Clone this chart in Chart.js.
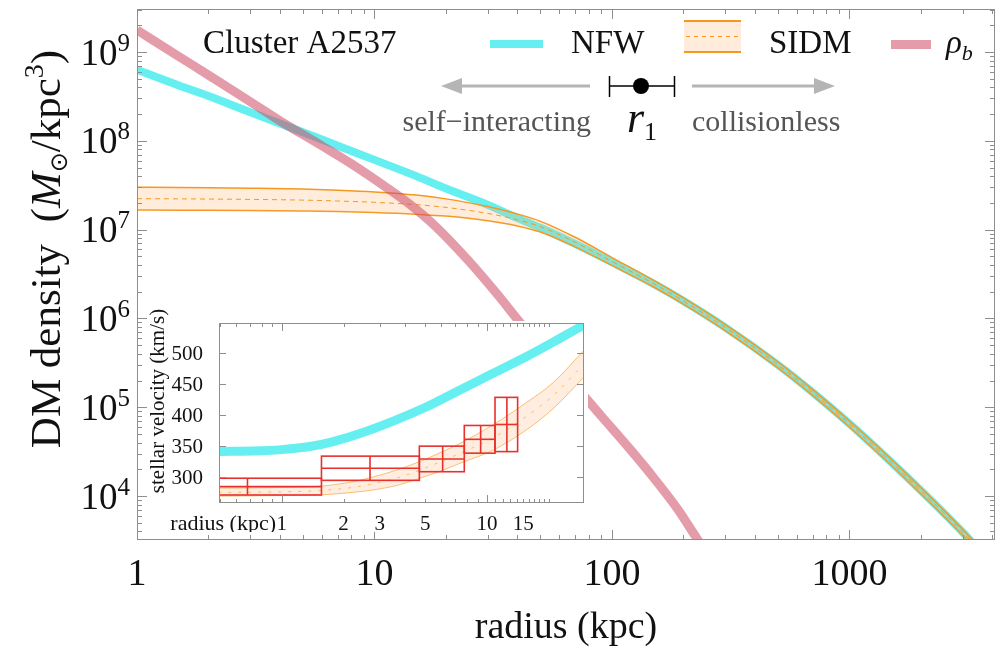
<!DOCTYPE html>
<html>
<head>
<meta charset="utf-8">
<script src="https://cdn.jsdelivr.net/npm/chart.js@4.4.0/dist/chart.umd.min.js"></script>
<style>
  body { margin: 0; background: #fff; }
  #wrap { position: relative; width: 997px; height: 650px; }
  #densityChart { position: absolute; left: 0; top: 0; }
  #velocityChart { position: absolute; left: 148px; top: 300px; }
</style>
</head>
<body>
<div id="wrap">
  <canvas id="densityChart" width="997" height="650"></canvas>
  <canvas id="velocityChart" width="442" height="232"></canvas>
</div>
<script>
// density profiles: radius in kpc, density in Msun/kpc^3
const radius = [1, 1.5, 2, 3, 5, 7, 10, 15, 20, 30, 40, 50, 70, 100, 150, 200, 300, 500, 700, 1000, 1500, 2000, 2500, 3000, 3500, 4200];
const nfwDensity = [6.3e8, 4.2e8, 3.2e8, 2.1e8, 1.25e8, 8.8e7, 6.1e7, 4.0e7, 2.9e7, 1.9e7, 1.35e7, 1.05e7, 6.9e6, 4.3e6, 2.45e6, 1.57e6, 7.9e5, 3.0e5, 1.47e5, 6.5e4, 2.4e4, 1.15e4, 6.4e3, 3.9e3, 2.5e3, 1.5e3];
const sidmUpper = [3.0e7, 2.99e7, 2.97e7, 2.93e7, 2.86e7, 2.78e7, 2.66e7, 2.45e7, 2.22e7, 1.82e7, 1.5e7, 1.24e7, 8.2e6, 4.85e6, 2.68e6, 1.7e6, 8.5e5, 3.23e5, 1.58e5, 7.0e4, 2.6e4, 1.24e4, 6.9e3, 4.2e3, 2.7e3, 1.62e3];
const sidmCentral = [2.23e7, 2.22e7, 2.21e7, 2.19e7, 2.15e7, 2.1e7, 2.03e7, 1.91e7, 1.78e7, 1.52e7, 1.29e7, 1.08e7, 7.2e6, 4.38e6, 2.46e6, 1.57e6, 7.9e5, 3.0e5, 1.47e5, 6.5e4, 2.4e4, 1.15e4, 6.4e3, 3.9e3, 2.5e3, 1.5e3];
const sidmLower = [1.66e7, 1.655e7, 1.65e7, 1.64e7, 1.62e7, 1.6e7, 1.56e7, 1.49e7, 1.42e7, 1.26e7, 1.1e7, 9.4e6, 6.4e6, 3.95e6, 2.26e6, 1.45e6, 7.3e5, 2.77e5, 1.36e5, 6.0e4, 2.22e4, 1.06e4, 5.9e3, 3.6e3, 2.3e3, 1.38e3];
const baryonRadius = [1, 1.5, 2, 3, 4, 6, 8, 11, 14, 18, 25, 33, 41, 55, 70, 90, 120, 150, 190, 230, 260];
const baryonDensity = [1.77e9, 8.9e8, 5.5e8, 2.75e8, 1.68e8, 8.8e7, 5.5e7, 3.1e7, 1.95e7, 1.1e7, 4.4e6, 1.85e6, 9.0e5, 3.6e5, 1.75e5, 8.0e4, 3.3e4, 1.6e4, 7.0e3, 3.2e3, 2.0e3];

const xDecades = [1, 10, 100, 1000];
const xTickLabels = ['1', '10', '100', '1000'];
const yDecades = [1e4, 1e5, 1e6, 1e7, 1e8, 1e9];
const yExponents = ['4', '5', '6', '7', '8', '9'];

// inset: stellar velocity dispersion (km/s) against radius (kpc)
const velRadius = [0.49, 0.78, 1.0, 1.37, 1.78, 2.4, 3.49, 5.08, 7.38, 10.7, 15.6, 22.6, 29.7];
const nfwVelocity = [341, 342, 344, 349, 357, 370, 390, 413, 440, 467, 494, 523, 545];
const sidmVelRadius = [0.49, 1.0, 1.53, 2.2, 2.79, 3.7, 4.71, 6, 7.38, 10.7, 15.6, 21, 29.7];
const sidmVelUpper = [282, 283, 285, 292, 300, 312, 325, 340, 354, 384, 420, 452, 504];
const sidmVelCentral = [275, 276, 278, 283, 289, 299, 311, 325, 338, 363, 398, 431, 482];
const sidmVelLower = [269, 270, 271, 275, 279, 287, 298, 310, 322, 343, 376, 410, 461];
const binInner = [0.3, 1.56, 4.68, 7.75, 10.94];
const binOuter = [1.56, 4.68, 7.75, 10.94, 14.1];
const binRadius = [0.68, 2.69, 6.08, 9.31, 12.5];
const binVelocity = [284.4, 314, 329, 360.6, 384.5];
const binError = [13.5, 19.5, 20.6, 22.3, 43.7];
const insetTicks = [1, 2, 3, 5, 10, 15];
const insetVelTicks = [300, 350, 400, 450, 500];

const serif = "'Liberation Serif', 'Times New Roman', serif";
const cyan = 'rgba(0, 228, 232, 0.6)';
const pink = 'rgba(205, 75, 100, 0.55)';
const orange = 'rgb(246, 152, 32)';
const bandFill = 'rgba(255, 170, 90, 0.22)';
const frameGray = '#8e8e8e';

function points(xs, ys) {
    return xs.map((x, i) => ({ x: x, y: ys[i] }));
}

// draws a run of text pieces with their own fonts and vertical offsets
function drawParts(ctx, parts, x, y, align) {
    let total = 0;
    parts.forEach(p => { ctx.font = p.font; p.w = ctx.measureText(p.text).width; total += p.w; });
    let cx = align === 'right' ? x - total : align === 'center' ? x - total / 2 : x;
    parts.forEach(p => { ctx.font = p.font; ctx.fillText(p.text, cx, y + (p.dy || 0)); cx += p.w; });
}

function line(ctx, x1, y1, x2, y2) {
    ctx.beginPath();
    ctx.moveTo(x1, y1);
    ctx.lineTo(x2, y2);
    ctx.stroke();
}

function logTicks(min, max) {
    const out = [];
    for (let d = Math.pow(10, Math.floor(Math.log10(min))); d <= max; d *= 10) {
        for (let k = 1; k < 10; k++) {
            const v = d * k;
            if (v >= min && v <= max) out.push({ v: v, major: k === 1 });
        }
    }
    return out;
}

const densityDecor = {
    id: 'densityDecor',
    afterDraw(chart) {
        const { ctx, chartArea: a, scales: { x, y } } = chart;
        ctx.save();

        // frame with inward ticks on all four sides
        ctx.strokeStyle = frameGray;
        ctx.lineWidth = 1;
        ctx.strokeRect(a.left + 0.5, a.top + 0.5, a.right - a.left - 1, a.bottom - a.top - 1);
        logTicks(x.min, x.max).forEach(t => {
            const px = Math.round(x.getPixelForValue(t.v)) + 0.5;
            const len = t.major ? 10 : 5;
            line(ctx, px, a.bottom, px, a.bottom - len);
            line(ctx, px, a.top, px, a.top + len);
        });
        logTicks(y.min, y.max).forEach(t => {
            const py = Math.round(y.getPixelForValue(t.v)) + 0.5;
            const len = t.major ? 10 : 5;
            line(ctx, a.left, py, a.left + len, py);
            line(ctx, a.right, py, a.right - len, py);
        });

        // tick labels
        ctx.fillStyle = '#111';
        ctx.textAlign = 'center';
        ctx.textBaseline = 'alphabetic';
        ctx.font = `38px ${serif}`;
        xDecades.forEach((v, i) => ctx.fillText(xTickLabels[i], x.getPixelForValue(v), 585));
        ctx.textAlign = 'left';
        yDecades.forEach((v, i) => {
            const py = y.getPixelForValue(v);
            drawParts(ctx, [
                { text: '10', font: `37px ${serif}` },
                { text: yExponents[i], font: `25px ${serif}`, dy: -14 }
            ], 130, py + 12.5, 'right');
        });

        // axis titles
        drawParts(ctx, [{ text: 'radius (kpc)', font: `38px ${serif}` }], (a.left + a.right) / 2, 638, 'center');
        ctx.save();
        ctx.translate(60, 249);
        ctx.rotate(-Math.PI / 2);
        drawParts(ctx, [
            { text: 'DM density  (', font: `43px ${serif}` },
            { text: 'M', font: `italic 43px ${serif}` },
            { text: '\u2299', font: `24px 'DejaVu Sans'`, dy: 7 },
            { text: '/kpc', font: `43px ${serif}` },
            { text: '3', font: `28px ${serif}`, dy: -17 },
            { text: ')', font: `43px ${serif}` }
        ], 0, 0, 'center');
        ctx.restore();

        // legend row
        ctx.fillStyle = '#111';
        ctx.font = `33px ${serif}`;
        ctx.fillText('Cluster A2537', 203, 53);
        ctx.fillStyle = cyan;
        ctx.fillRect(490, 40, 53, 8);
        ctx.fillStyle = '#111';
        ctx.fillText('NFW', 571, 53);
        ctx.fillStyle = bandFill;
        ctx.fillRect(684, 21, 57, 31);
        ctx.strokeStyle = orange;
        ctx.lineWidth = 2;
        line(ctx, 684, 21, 741, 21);
        line(ctx, 684, 52, 741, 52);
        ctx.lineWidth = 1;
        ctx.setLineDash([4, 4]);
        line(ctx, 686, 36.5, 741, 36.5);
        ctx.setLineDash([]);
        ctx.fillStyle = '#111';
        ctx.font = `33px ${serif}`;
        ctx.fillText('SIDM', 769, 53);
        ctx.fillStyle = pink;
        ctx.fillRect(891, 40, 40, 9);
        ctx.fillStyle = '#111';
        drawParts(ctx, [
            { text: '\u03c1', font: `italic 33px ${serif}` },
            { text: 'b', font: `italic 22px ${serif}`, dy: 7 }
        ], 946, 53, 'left');

        // r1 marker between the two regimes
        ctx.strokeStyle = '#b5b5b5';
        ctx.fillStyle = '#b5b5b5';
        ctx.lineWidth = 3;
        line(ctx, 590, 86, 458, 86);
        line(ctx, 692, 86, 818, 86);
        ctx.beginPath();
        ctx.moveTo(441, 86); ctx.lineTo(462, 78); ctx.lineTo(462, 94); ctx.closePath(); ctx.fill();
        ctx.beginPath();
        ctx.moveTo(835, 86); ctx.lineTo(814, 78); ctx.lineTo(814, 94); ctx.closePath(); ctx.fill();
        ctx.strokeStyle = '#000';
        ctx.fillStyle = '#000';
        ctx.lineWidth = 1.5;
        line(ctx, 609, 86, 674, 86);
        line(ctx, 609.5, 76, 609.5, 97);
        line(ctx, 674.5, 76, 674.5, 97);
        ctx.beginPath();
        ctx.arc(641, 86, 8, 0, Math.PI * 2);
        ctx.fill();

        ctx.fillStyle = '#555';
        ctx.font = `30px ${serif}`;
        ctx.textAlign = 'right';
        ctx.fillText('self\u2212interacting', 591, 131);
        ctx.textAlign = 'left';
        ctx.fillText('collisionless', 692, 131);
        ctx.fillStyle = '#111';
        drawParts(ctx, [
            { text: 'r', font: `italic 44px ${serif}` },
            { text: '1', font: `26px ${serif}`, dy: 8 }
        ], 627, 132, 'left');

        ctx.restore();
    }
};

new Chart(document.getElementById('densityChart'), {
    type: 'line',
    data: {
        datasets: [
            {
                label: 'rho_b',
                data: points(baryonRadius, baryonDensity),
                borderColor: pink,
                borderWidth: 9,
                order: 0
            },
            {
                label: 'SIDM central',
                data: points(radius, sidmCentral),
                borderColor: orange,
                borderWidth: 1,
                borderDash: [5, 4],
                order: 1
            },
            {
                label: 'SIDM upper',
                data: points(radius, sidmUpper),
                borderColor: orange,
                borderWidth: 1.5,
                backgroundColor: bandFill,
                fill: '+1',
                order: 2
            },
            {
                label: 'SIDM lower',
                data: points(radius, sidmLower),
                borderColor: orange,
                borderWidth: 1.5,
                order: 3
            },
            {
                label: 'NFW',
                data: points(radius, nfwDensity),
                borderColor: cyan,
                borderWidth: 8,
                order: 4
            }
        ]
    },
    options: {
        responsive: false,
        animation: false,
        devicePixelRatio: 1,
        layout: { padding: { left: 137, right: 2, top: 9, bottom: 110 } },
        elements: {
            point: { radius: 0 },
            line: { cubicInterpolationMode: 'monotone', borderCapStyle: 'butt' }
        },
        scales: {
            x: { type: 'logarithmic', min: 1, max: 4100, display: false },
            y: { type: 'logarithmic', min: 3200, max: 3.05e9, display: false }
        },
        plugins: { legend: { display: false }, tooltip: { enabled: false } }
    },
    plugins: [densityDecor]
});

const insetBackground = {
    id: 'insetBackground',
    beforeDraw(chart) {
        const ctx = chart.ctx;
        ctx.save();
        ctx.fillStyle = '#fff';
        ctx.fillRect(0, 0, 74, chart.height);
        ctx.fillRect(0, 21, 440, chart.height - 21);
        ctx.restore();
    }
};

const insetDecor = {
    id: 'insetDecor',
    afterDatasetsDraw(chart) {
        const { ctx, chartArea: a, scales: { x, y } } = chart;
        ctx.save();

        // binned velocity measurements: box spans the bin and the error
        ctx.beginPath();
        ctx.rect(a.left, a.top, a.right - a.left, a.bottom - a.top);
        ctx.clip();
        ctx.strokeStyle = '#e8302c';
        ctx.lineWidth = 1.6;
        binRadius.forEach((r, i) => {
            const x0 = x.getPixelForValue(binInner[i]);
            const x1 = x.getPixelForValue(binOuter[i]);
            const xc = x.getPixelForValue(r);
            const yTop = y.getPixelForValue(binVelocity[i] + binError[i]);
            const yBot = y.getPixelForValue(binVelocity[i] - binError[i]);
            const yc = y.getPixelForValue(binVelocity[i]);
            ctx.strokeRect(x0, yTop, x1 - x0, yBot - yTop);
            line(ctx, x0, yc, x1, yc);
            line(ctx, xc, yTop, xc, yBot);
        });
        ctx.restore();
    },
    afterDraw(chart) {
        const { ctx, chartArea: a, scales: { x, y } } = chart;
        ctx.save();
        ctx.strokeStyle = frameGray;
        ctx.lineWidth = 1;
        ctx.strokeRect(a.left + 0.5, a.top + 0.5, a.right - a.left - 1, a.bottom - a.top - 1);
        const xt = logTicks(x.min, x.max).concat([11, 12, 13, 14, 15, 16, 17, 18, 19].map(v => ({ v: v, major: false })));
        xt.forEach(t => {
            const px = Math.round(x.getPixelForValue(t.v)) + 0.5;
            const len = t.major ? 8 : 4;
            line(ctx, px, a.bottom, px, a.bottom - len);
            line(ctx, px, a.top, px, a.top + len);
        });
        insetVelTicks.forEach(v => {
            const py = Math.round(y.getPixelForValue(v)) + 0.5;
            line(ctx, a.left, py, a.left + 7, py);
            line(ctx, a.right, py, a.right - 7, py);
        });

        ctx.fillStyle = '#111';
        ctx.font = `21px ${serif}`;
        ctx.textAlign = 'right';
        insetVelTicks.forEach(v => ctx.fillText(String(v), 55, y.getPixelForValue(v) + 7));
        ctx.textAlign = 'center';
        insetTicks.forEach(v => ctx.fillText(String(v), x.getPixelForValue(v), 230));
        ctx.textAlign = 'right';
        ctx.font = `22px ${serif}`;
        ctx.fillText('radius (kpc)', 128, 230);

        ctx.translate(16, 101);
        ctx.rotate(-Math.PI / 2);
        ctx.textAlign = 'center';
        ctx.font = `21px ${serif}`;
        ctx.fillText('stellar velocity (km/s)', 0, 0);
        ctx.restore();
    }
};

new Chart(document.getElementById('velocityChart'), {
    type: 'line',
    data: {
        datasets: [
            {
                label: 'SIDM central',
                data: points(sidmVelRadius, sidmVelCentral),
                borderColor: 'rgba(246, 152, 32, 0.6)',
                borderWidth: 1,
                borderDash: [3, 7],
                order: 0
            },
            {
                label: 'SIDM upper',
                data: points(sidmVelRadius, sidmVelUpper),
                borderColor: 'rgba(246, 152, 32, 0.6)',
                borderWidth: 1,
                backgroundColor: 'rgba(255, 170, 100, 0.2)',
                fill: '+1',
                order: 1
            },
            {
                label: 'SIDM lower',
                data: points(sidmVelRadius, sidmVelLower),
                borderColor: 'rgba(246, 152, 32, 0.6)',
                borderWidth: 1,
                order: 2
            },
            {
                label: 'NFW',
                data: points(velRadius, nfwVelocity),
                borderColor: cyan,
                borderWidth: 9,
                order: 3
            }
        ]
    },
    options: {
        responsive: false,
        animation: false,
        devicePixelRatio: 1,
        layout: { padding: { left: 71, right: 6, top: 23, bottom: 29 } },
        elements: {
            point: { radius: 0 },
            line: { cubicInterpolationMode: 'monotone', borderCapStyle: 'butt' }
        },
        scales: {
            x: { type: 'logarithmic', min: 0.494, max: 29.7, display: false },
            y: { min: 258, max: 548, display: false }
        },
        plugins: { legend: { display: false }, tooltip: { enabled: false } }
    },
    plugins: [insetBackground, insetDecor]
});
</script>
</body>
</html>
